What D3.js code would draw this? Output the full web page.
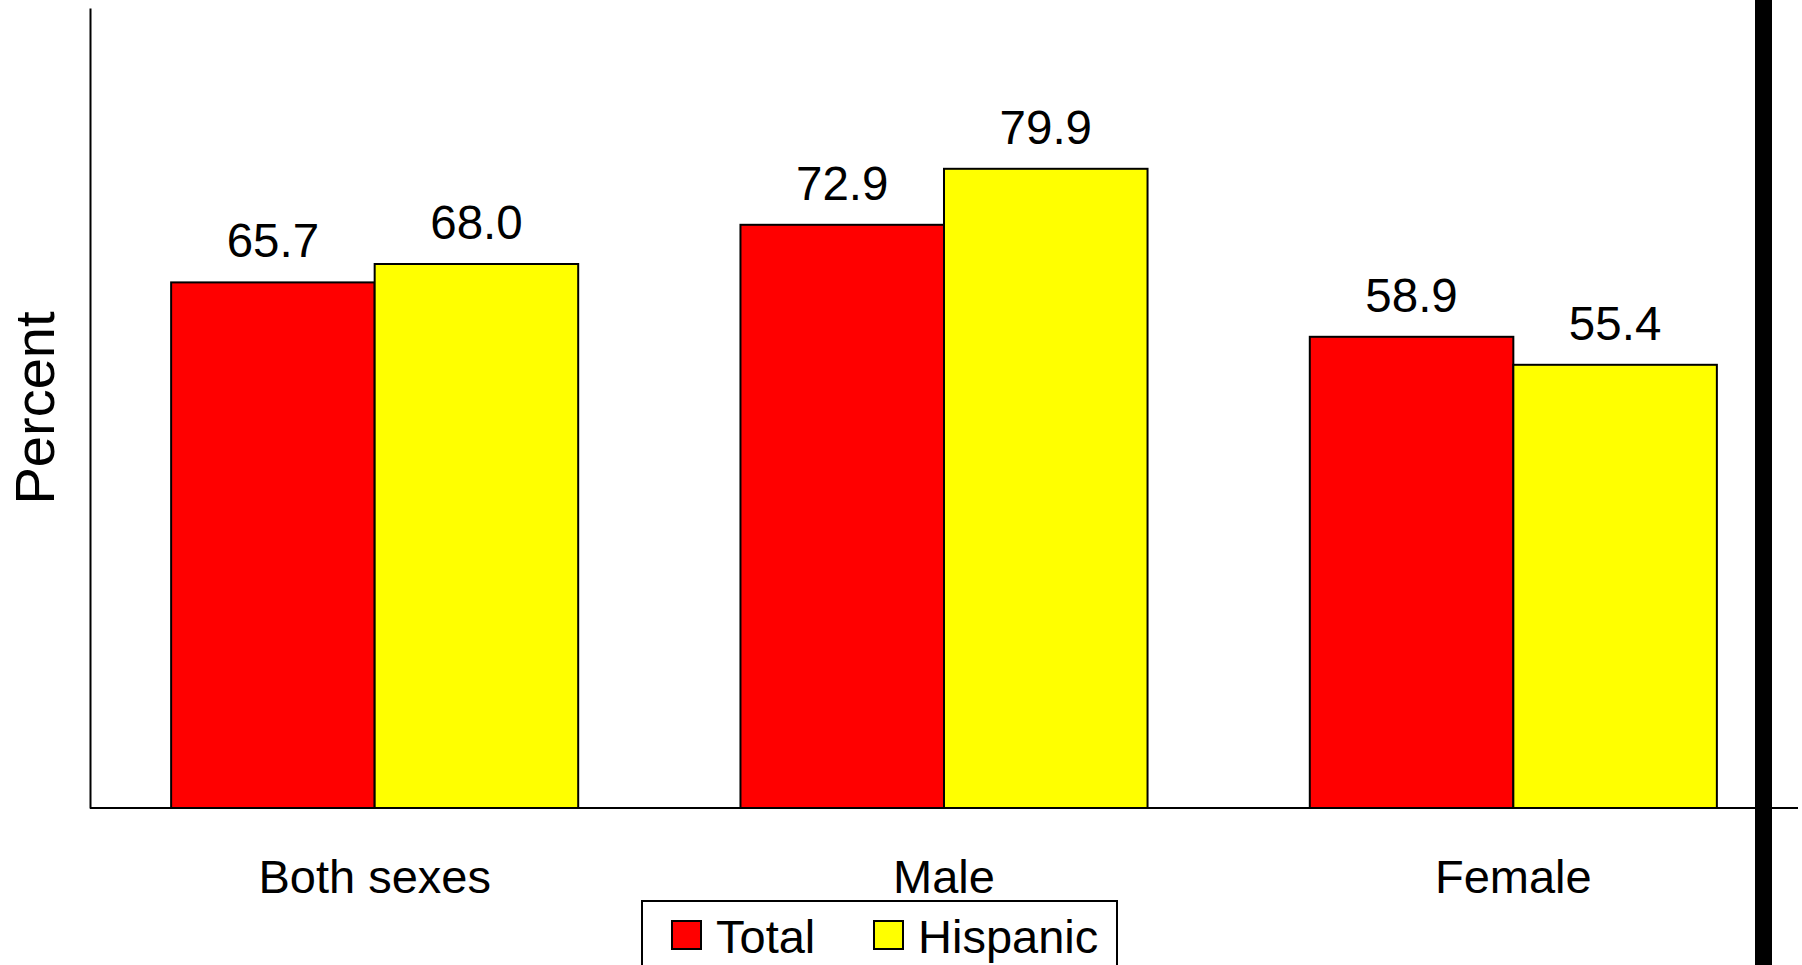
<!DOCTYPE html>
<html><head><meta charset="utf-8">
<script src="https://cdn.jsdelivr.net/npm/d3@7"></script>
<style>html,body{margin:0;padding:0;background:#fff;overflow:hidden}svg{display:block}text{font-family:Arial,"Liberation Sans",sans-serif;fill:#000}</style>
</head><body>
<script>
const categories = ["Both sexes", "Male", "Female"];
const seriesNames = ["Total", "Hispanic"];
const totalValues = [65.7, 72.9, 58.9];
const hispanicValues = [68.0, 79.9, 55.4];
const seriesColors = ["#FF0000", "#FFFF00"];
const yLabel = "Percent";

const W = 1802, H = 965;
const svg = d3.select("body").append("svg").attr("width", W).attr("height", H);

const x0 = d3.scaleBand().domain(categories).range([90, 1798]).paddingInner(0.285).paddingOuter(0.1425);
const x1 = d3.scaleBand().domain(seriesNames).range([0, x0.bandwidth()]);
const y = d3.scaleLinear().domain([0, 100]).range([808, 8]);
const color = d3.scaleOrdinal().domain(seriesNames).range(seriesColors);

const data = categories.map((c, i) => ({cat: c, vals: [
  {s: seriesNames[0], v: totalValues[i]},
  {s: seriesNames[1], v: hispanicValues[i]}
]}));

const g = svg.selectAll("g.grp").data(data).enter().append("g")
  .attr("transform", d => `translate(${x0(d.cat)},0)`);
g.selectAll("rect").data(d => d.vals).enter().append("rect")
  .attr("x", d => x1(d.s)).attr("width", x1.bandwidth())
  .attr("y", d => y(d.v)).attr("height", d => y(0) - y(d.v))
  .attr("fill", d => color(d.s)).attr("stroke", "#000").attr("stroke-width", 2);
g.selectAll("text.val").data(d => d.vals).enter().append("text")
  .attr("class", "val")
  .attr("x", d => x1(d.s) + x1.bandwidth() / 2)
  .attr("y", d => y(d.v) - 25)
  .attr("text-anchor", "middle").attr("font-size", 47.5)
  .text(d => d.v.toFixed(1));

// axes
const xAxis = d3.axisBottom(x0).tickSize(0).tickPadding(0);
const xg = svg.append("g").attr("transform", `translate(0,${y(0)})`).call(xAxis);
xg.select(".domain").attr("stroke", "#000").attr("stroke-width", 2).attr("d", `M90,0H1798`);
xg.selectAll(".tick text").attr("font-size", 47).attr("dy", null).attr("y", 85).attr("fill", "#000")
  .style("font-family", "Arial, 'Liberation Sans', sans-serif");

const yAxis = d3.axisLeft(y).tickValues([]).tickSize(0);
const yg = svg.append("g").attr("transform", "translate(90,0)").call(yAxis);
yg.select(".domain").attr("stroke", "#000").attr("stroke-width", 2);

svg.append("text").attr("transform", "translate(54,408) rotate(-90)")
  .attr("text-anchor", "middle").attr("font-size", 56).text(yLabel);

// right black bar
svg.append("rect").attr("x", 1755).attr("y", 0).attr("width", 17).attr("height", H).attr("fill", "#000");

// legend
const lg = svg.append("g");
lg.append("rect").attr("x", 642).attr("y", 901).attr("width", 475).attr("height", 100)
  .attr("fill", "#fff").attr("stroke", "#000").attr("stroke-width", 2);
const legX = [672, 874];
seriesNames.forEach((s, i) => {
  lg.append("rect").attr("x", legX[i]).attr("y", 921).attr("width", 29).attr("height", 28)
    .attr("fill", color(s)).attr("stroke", "#000").attr("stroke-width", 2);
  lg.append("text").attr("x", legX[i] + 44).attr("y", 953).attr("font-size", 47).text(s);
});
</script>
</body></html>
